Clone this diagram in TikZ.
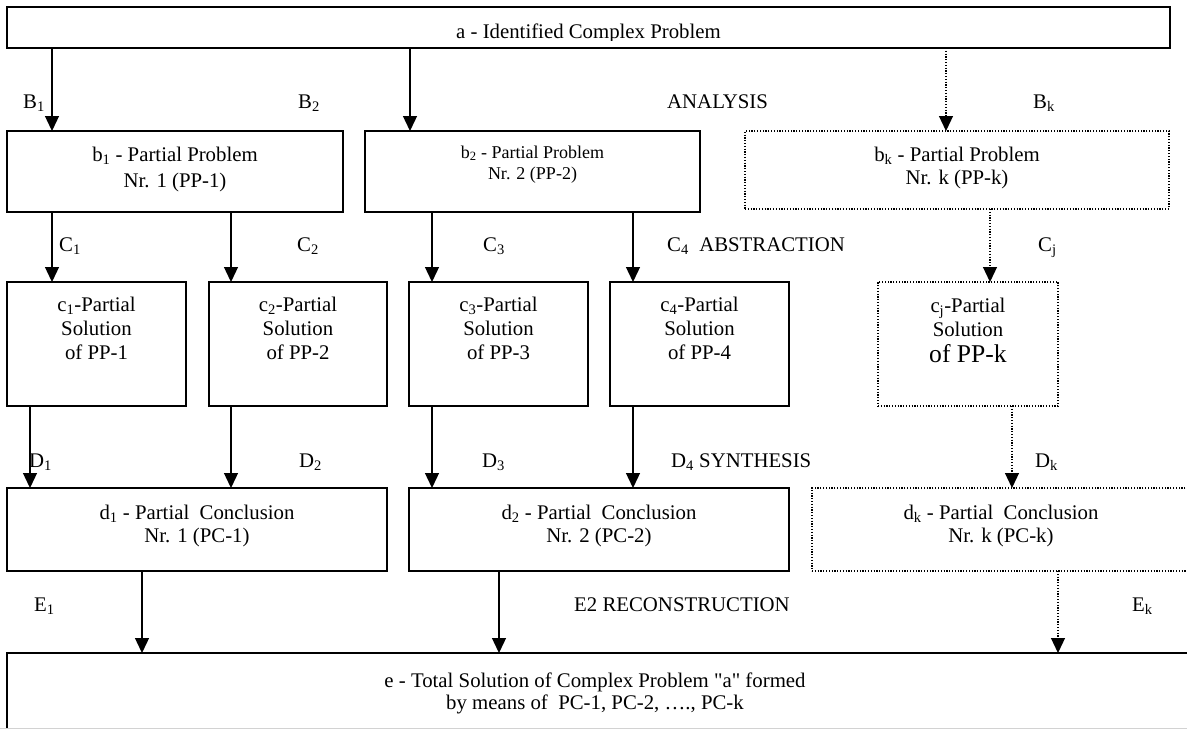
\documentclass[tikz,border=0pt]{standalone}
\usepackage{fontspec}
\setmainfont{Liberation Serif}
\usetikzlibrary{arrows.meta}
\tikzset{
  bx/.style={draw, line width=1.3pt, anchor=north west, inner sep=0pt, outer sep=0pt},
  dbx/.style={bx, dash pattern=on 1.2pt off 1.6pt, line width=1.2pt},
  tipstyle/.style={-{Triangle[width=14pt,length=15pt]}},
  arr/.style={line width=1.3pt, tipstyle},
  darr/.style={line width=1.2pt, dash pattern=on 1.2pt off 1.6pt, tipstyle},
  lbl/.style={anchor=base west, inner sep=0pt, font=\fontsize{20.8}{25}\selectfont},
  txt/.style={anchor=north, inner sep=0pt, align=center, font=\fontsize{20.8}{24}\selectfont},
}
\begin{document}
\begin{tikzpicture}[x=1pt,y=-1pt]
\useasboundingbox (0,0) rectangle (1187,729);
% ---------- boxes
\node[bx, minimum width=1163pt, minimum height=41pt] (A) at (7,7) {};
\node[bx, minimum width=336pt, minimum height=81pt] (b1) at (7,131) {};
\node[bx, minimum width=335pt, minimum height=81pt] (b2) at (365,131) {};
\node[dbx, minimum width=424pt, minimum height=78pt] (bk) at (745,131) {};
\node[bx, minimum width=179pt, minimum height=124pt] (c1) at (7,282) {};
\node[bx, minimum width=178pt, minimum height=124pt] (c2) at (209,282) {};
\node[bx, minimum width=179pt, minimum height=124pt] (c3) at (409,282) {};
\node[bx, minimum width=179pt, minimum height=124pt] (c4) at (610,282) {};
\node[dbx, minimum width=180pt, minimum height=124pt] (cj) at (878,282) {};
\node[bx, minimum width=380pt, minimum height=83pt] (d1) at (7,488) {};
\node[bx, minimum width=380pt, minimum height=83pt] (d2) at (409,488) {};
\node[dbx, minimum width=379pt, minimum height=83pt] (dk) at (812,488) {};
\node[anchor=north west, inner sep=0pt, outer sep=0pt, minimum width=1190pt, minimum height=75pt] (E) at (7,653) {};
\draw[line width=1.3pt] (E.south west) -- (E.north west) -- (E.north east);
\draw[gray!35, line width=1pt] (0,728) -- (1187,728);
% ---------- box texts
\begin{scope}
\clip (7,7) rectangle (1170,40.5);
\node[anchor=base, inner sep=0pt, font=\fontsize{20.8}{25}\selectfont] (At) at (588.5,38.5) {a - Identified Complex Problem};
\end{scope}
\node[txt, font=\fontsize{20.8}{26}\selectfont] (b1t) at (175,146.5) {b\textsubscript{1} - Partial Problem\\Nr. 1 (PP-1)};
\node[txt, font=\fontsize{18}{21}\selectfont] (b2t) at (532.5,145.5) {b\textsubscript{2} - Partial Problem\\Nr. 2 (PP-2)};
\node[txt, font=\fontsize{20.8}{23}\selectfont] (bkt) at (957,146.5) {b\textsubscript{k} - Partial Problem\\Nr. k (PP-k)};
\node[txt] (c1t) at (96.5,296.5) {c\textsubscript{1}-Partial\\Solution\\of PP-1};
\node[txt] (c2t) at (298,296.5) {c\textsubscript{2}-Partial\\Solution\\of PP-2};
\node[txt] (c3t) at (498.5,296.5) {c\textsubscript{3}-Partial\\Solution\\of PP-3};
\node[txt] (c4t) at (699.5,296.5) {c\textsubscript{4}-Partial\\Solution\\of PP-4};
\node[txt] (cjt) at (968,297.5) {c\textsubscript{j}-Partial\\Solution\\[2pt]{\fontsize{25.6}{30}\selectfont of PP-k}};
\node[txt, font=\fontsize{20.8}{23}\selectfont] (d1t) at (197,504.5) {d\textsubscript{1} - Partial\ \ Conclusion\\Nr. 1 (PC-1)};
\node[txt, font=\fontsize{20.8}{23}\selectfont] (d2t) at (599,504.5) {d\textsubscript{2} - Partial\ \ Conclusion\\Nr. 2 (PC-2)};
\node[txt, font=\fontsize{20.8}{23}\selectfont] (dkt) at (1001,504.5) {d\textsubscript{k} - Partial\ \ Conclusion\\Nr. k (PC-k)};
\node[txt, font=\fontsize{20.8}{22}\selectfont] (Et) at (595,672.5) {e - Total Solution of Complex Problem \textquotedbl a\textquotedbl{} formed\\by means of\ \ PC-1, PC-2, …., PC-k};
% ---------- arrow x positions
\coordinate (xB1) at (52,0);  \coordinate (xB2) at (410,0);  \coordinate (xBk) at (946,0);
\coordinate (xC1) at (52,0);  \coordinate (xC2) at (231,0);  \coordinate (xC3) at (432,0);
\coordinate (xC4) at (633,0); \coordinate (xCj) at (990,0);
\coordinate (xD1) at (30,0);  \coordinate (xD2) at (231,0);  \coordinate (xD3) at (432,0);
\coordinate (xD4) at (633,0); \coordinate (xDk) at (1012,0);
\coordinate (xE1) at (142,0); \coordinate (xE2) at (499,0);  \coordinate (xEk) at (1058,0);
% ---------- connectors
\draw[arr]  (A.south -| xB1) -- (b1.north -| xB1);
\draw[arr]  (A.south -| xB2) -- (b2.north -| xB2);
\draw[darr] (A.south -| xBk) -- (bk.north -| xBk);
\draw[arr]  (b1.south -| xC1) -- (c1.north -| xC1);
\draw[arr]  (b1.south -| xC2) -- (c2.north -| xC2);
\draw[arr]  (b2.south -| xC3) -- (c3.north -| xC3);
\draw[arr]  (b2.south -| xC4) -- (c4.north -| xC4);
\draw[darr] (bk.south -| xCj) -- (cj.north -| xCj);
\draw[arr]  (c1.south -| xD1) -- (d1.north -| xD1);
\draw[arr]  (c2.south -| xD2) -- (d1.north -| xD2);
\draw[arr]  (c3.south -| xD3) -- (d2.north -| xD3);
\draw[arr]  (c4.south -| xD4) -- (d2.north -| xD4);
\draw[darr] (cj.south -| xDk) -- (dk.north -| xDk);
\draw[arr]  (d1.south -| xE1) -- (E.north -| xE1);
\draw[arr]  (d2.south -| xE2) -- (E.north -| xE2);
\draw[darr] (dk.south -| xEk) -- (E.north -| xEk);
% ---------- labels
\node[lbl] (LB1) at (23,108) {B\textsubscript{1}};
\node[lbl] (LB2) at (298,108) {B\textsubscript{2}};
\node[lbl] (LAn) at (667,108) {ANALYSIS};
\node[lbl] (LBk) at (1033,108) {B\textsubscript{k}};
\node[lbl] (LC1) at (59,251) {C\textsubscript{1}};
\node[lbl] (LC2) at (297,251) {C\textsubscript{2}};
\node[lbl] (LC3) at (483,251) {C\textsubscript{3}};
\node[lbl] (LC4) at (667,251) {C\textsubscript{4}\ \ ABSTRACTION};
\node[lbl] (LCj) at (1038,251) {C\textsubscript{j}};
\node[lbl] (LD1) at (29,467) {D\textsubscript{1}};
\node[lbl] (LD2) at (299,467) {D\textsubscript{2}};
\node[lbl] (LD3) at (482,467) {D\textsubscript{3}};
\node[lbl] (LD4) at (671,467) {D\textsubscript{4} SYNTHESIS};
\node[lbl] (LDk) at (1035,467) {D\textsubscript{k}};
\node[lbl] (LE1) at (34,611) {E\textsubscript{1}};
\node[lbl] (LE2) at (574,611) {E2 RECONSTRUCTION};
\node[lbl] (LEk) at (1132,611) {E\textsubscript{k}};
\end{tikzpicture}
\end{document}
